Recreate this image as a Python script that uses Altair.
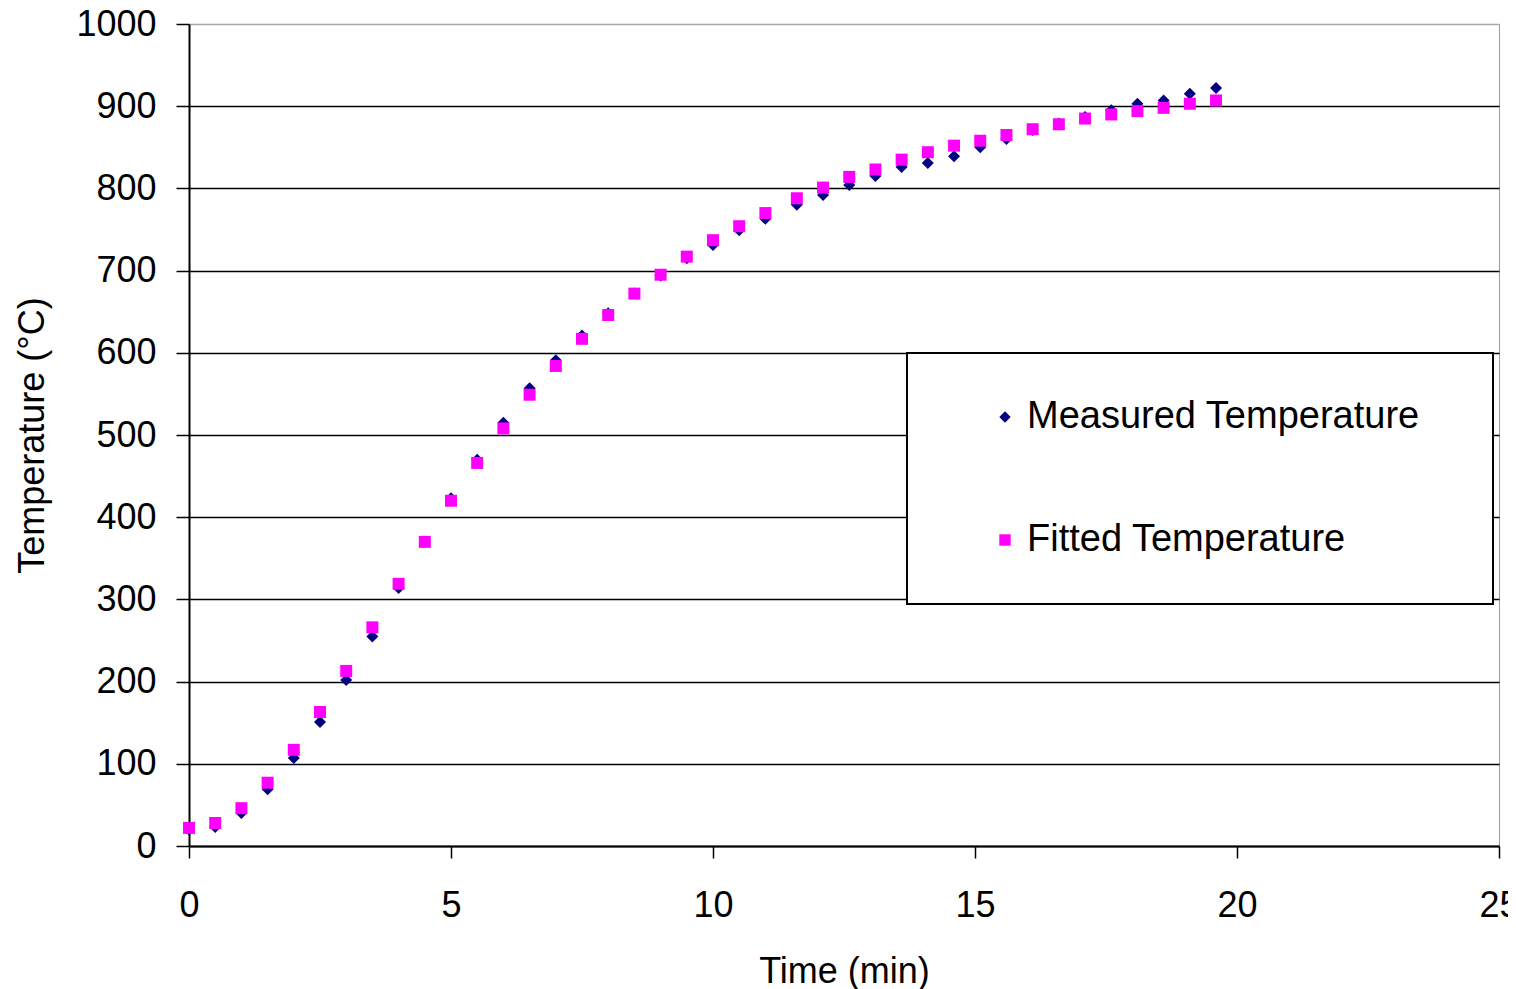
import altair as alt
import pandas as pd

# ---- data ----
times = [0, 0.5, 1, 1.5, 2, 2.5, 3, 3.5, 4, 4.5, 5, 5.5, 6, 6.5, 7, 7.5, 8, 8.5, 9, 9.5,
         10, 10.5, 11, 11.6, 12.1, 12.6, 13.1, 13.6, 14.1, 14.6, 15.1, 15.6, 16.1, 16.6,
         17.1, 17.6, 18.1, 18.6, 19.1, 19.6]
measured = [20, 23, 40, 69, 107, 151, 202, 255, 314, 370, 423, 470, 515, 557, 591, 621,
            648, 672, 694, 715, 731, 749, 763, 780, 792, 804, 815, 826, 831, 839, 850,
            860, 871, 879, 887, 895, 903, 907, 915, 922]
fitted = [22, 28, 46, 77, 117, 163, 213, 266, 319, 370, 420, 466, 508, 549, 584, 617,
          646, 672, 695, 717, 737, 754, 770, 788, 801, 814, 823, 835, 844, 852, 858,
          865, 872, 878, 885, 890, 894, 898, 903, 907]
series_names = ["Measured Temperature", "Fitted Temperature"]
series_colors = ["#000080", "#ff00ff"]
series_shapes = ["diamond", "square"]
x_ticks = [0, 5, 10, 15, 20, 25]
y_ticks = list(range(0, 1001, 100))

rows = []
for name, vals in zip(series_names, [measured, fitted]):
    for t, v in zip(times, vals):
        rows.append({"time": t, "temp": v, "series": name})
df = pd.DataFrame(rows)

FONT = "Liberation Sans"

legend = alt.Legend(
    title=None, orient="none", legendX=718, legendY=329, direction="vertical",
    fillColor="white", strokeColor="black", padding=45,
    labelFont=FONT, labelFontSize=38, labelColor="black", labelLimit=900,
    labelExpr="datum.label + '\u2800'",
    symbolSize=130, symbolOffset=34, labelOffset=3, rowPadding=85,
    symbolStrokeWidth=0,
)

chart = alt.Chart(df).mark_point(filled=True, opacity=1, size=144).encode(
    x=alt.X("time:Q",
            scale=alt.Scale(domain=[0, 25], nice=False),
            axis=alt.Axis(values=x_ticks, format="d", grid=False,
                          domainColor="black", domainWidth=2,
                          tickColor="black", tickWidth=1.5, tickSize=12,
                          labelFont=FONT, labelFontSize=36, labelColor="black",
                          labelPadding=30, labelFlush=False, labelOverlap=False,
                          title="Time (min)", titleFont=FONT, titleFontSize=36,
                          titleFontWeight="normal", titleColor="black",
                          titleX=655, titleY=136, titleAlign="center",
                          titleBaseline="alphabetic")),
    y=alt.Y("temp:Q",
            scale=alt.Scale(domain=[0, 1000], nice=False),
            axis=alt.Axis(values=y_ticks, format="d", grid=True,
                          gridColor={"condition": {"test": "datum.value >= 1000", "value": "#a8a8a8"},
                                     "value": "#000000"},
                          gridWidth=1.6,
                          domainColor="black", domainWidth=2,
                          tickColor="black", tickWidth=1.5, tickSize=13,
                          labelFont=FONT, labelFontSize=36, labelColor="black",
                          labelPadding=20, labelFlush=False, labelOverlap=False,
                          title="Temperature (°C)", titleFont=FONT, titleFontSize=36,
                          titleFontWeight="normal", titleColor="black",
                          titleAngle=270, titleX=-145.5, titleY=411,
                          titleAlign="center", titleBaseline="alphabetic")),
    color=alt.Color("series:N",
                    scale=alt.Scale(domain=series_names, range=series_colors),
                    legend=legend),
    shape=alt.Shape("series:N",
                    scale=alt.Scale(domain=series_names, range=series_shapes),
                    legend=legend),
).properties(
    width=1310, height=822,
    autosize=alt.AutoSizeParams(type="none"),
    padding={"left": 181, "top": 16, "right": 9, "bottom": 143},
    background="white",
).configure_view(
    stroke="#9a9a9a", strokeWidth=1
).configure_legend(
    strokeWidth=2
)

chart.save("out.html", embed_options={"renderer": "svg", "actions": False})
